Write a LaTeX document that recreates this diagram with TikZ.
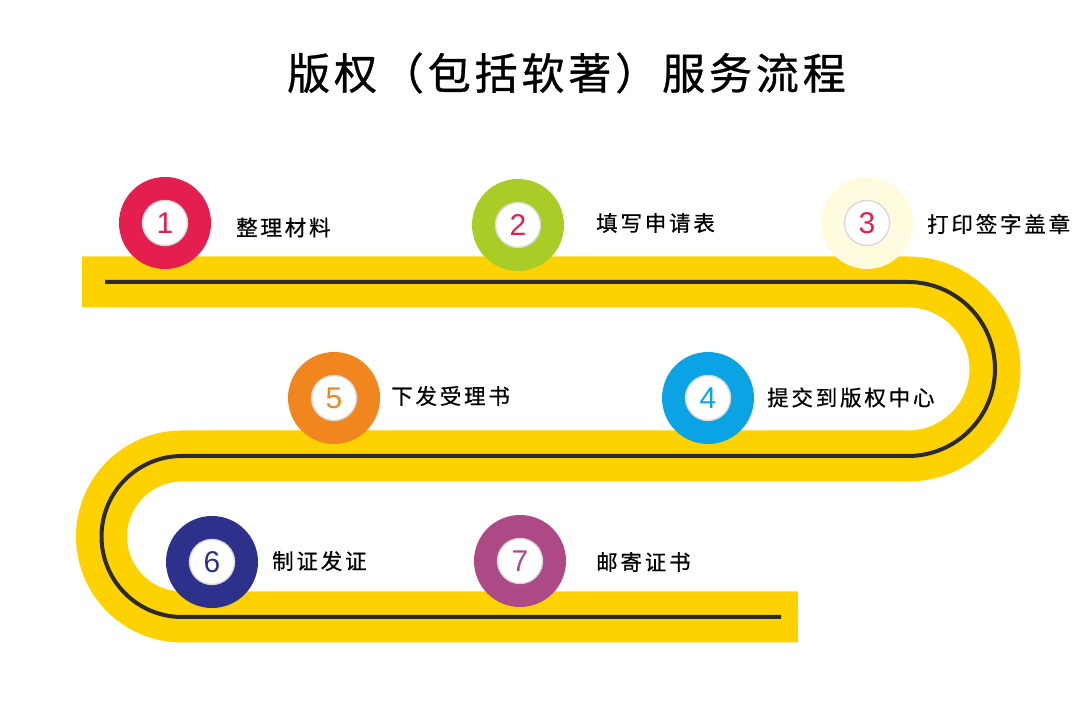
\documentclass[tikz,border=0pt]{standalone}
\usepackage{fontspec}
\newfontfamily\cjk[LetterSpace=13,FakeBold=0.6]{Noto Sans CJK SC}
\newfontfamily\cjkhead[LetterSpace=9,FakeBold=0.8]{Noto Sans CJK SC}
\newfontfamily\digitfont{Liberation Sans}
\definecolor{bandyellow}{HTML}{FDD200}
\definecolor{trackdark}{HTML}{2B2A2E}
\definecolor{stepred}{HTML}{E41E4E}
\definecolor{steplime}{HTML}{A9CC26}
\definecolor{stepcream}{HTML}{FEFBDE}
\definecolor{stepblue}{HTML}{0AA3E3}
\definecolor{steporange}{HTML}{F0861D}
\definecolor{stepnavy}{HTML}{2E318C}
\definecolor{steppurple}{HTML}{AD4A86}
\tikzset{
	band/.style={line width=51pt, draw=bandyellow},
	track/.style={line width=4pt, draw=trackdark},
	stepdisc/.style={circle, minimum size=92pt, inner sep=0pt, fill=#1},
	numdisc/.style={circle, minimum size=45pt, inner sep=0pt, fill=white, draw=gray!30, line width=1.4pt, text=#1, font=\digitfont\fontsize{30}{32}\selectfont},
	steptext/.style={anchor=west, inner sep=0pt, font=\cjk\fontsize{21.5}{24}\selectfont}
}
\begin{document}
\begin{tikzpicture}[x=1pt,y=1pt]
	\useasboundingbox (0,0) rectangle (1080,719);
	\node[anchor=west, inner sep=0pt, font=\cjkhead\fontsize{43}{46}\selectfont] (title) at (287,646) {版权（包括软著）服务流程};
	
	\draw[band] (82,437) -- (908,437) arc[start angle=90, end angle=-90, radius=87] -- (182,263) arc[start angle=90, end angle=270, radius=80.5] -- (798,102);
	\draw[track] (105,437) -- (908,437) arc[start angle=90, end angle=-90, radius=87] -- (182,263) arc[start angle=90, end angle=270, radius=80.5] -- (781,102);
	
	\node[stepdisc=stepred] (c1) at (165,496) {};
	\node[stepdisc=steplime] (c2) at (518,494) {};
	\node[stepdisc=stepcream] (c3) at (867,496) {};
	\node[stepdisc=stepblue] (c4) at (708,321) {};
	\node[stepdisc=steporange] (c5) at (334,321) {};
	\node[stepdisc=stepnavy] (c6) at (212,157) {};
	\node[stepdisc=steppurple] (c7) at (520,158) {};
	
	\node[numdisc=stepred] (n1) at (c1) {1};
	\node[numdisc=stepred] (n2) at (c2) {2};
	\node[numdisc=stepred] (n3) at (c3) {3};
	\node[numdisc=stepblue] (n4) at (c4) {4};
	\node[numdisc=steporange] (n5) at (c5) {5};
	\node[numdisc=stepnavy] (n6) at (c6) {6};
	\node[numdisc=steppurple] (n7) at (c7) {7};
	
	\node[steptext] (l1) at (236,491.5) {整理材料};
	\node[steptext] (l2) at (596,496) {填写申请表};
	\node[steptext] (l3) at (927,495) {打印签字盖章};
	\node[steptext] (l4) at (767,321.5) {提交到版权中心};
	\node[steptext] (l5) at (391,323) {下发受理书};
	\node[steptext] (l6) at (272,158) {制证发证};
	\node[steptext] (l7) at (596,157) {邮寄证书};
\end{tikzpicture}
\end{document}
